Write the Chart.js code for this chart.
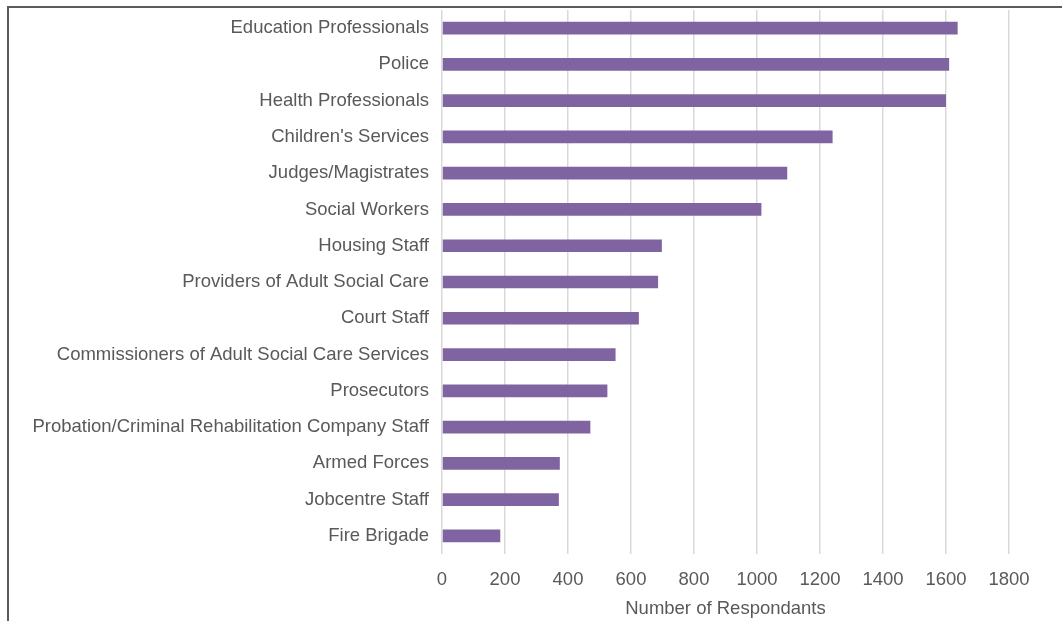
<!DOCTYPE html>
<html>
<head>
<meta charset="utf-8">
<script src="https://cdn.jsdelivr.net/npm/chart.js@4.4.1/dist/chart.umd.min.js"></script>
<style>
    html, body {
        margin: 0;
        padding: 0;
        background: #ffffff;
        overflow: hidden;
    }

    #frame {
        position: absolute;
        left: 7px;
        top: 6px;
        width: 1200px;
        height: 800px;
        border: 2px solid #5b5b5b;
    }

    #wrap {
        position: absolute;
        left: 0;
        top: 0;
        width: 1062px;
        height: 621px;
    }
</style>
</head>
<body>
<div id="frame"></div>
<div id="wrap">
    <canvas id="respondentChart"></canvas>
</div>

<script>
/* ==========================
   DATA
========================== */

const categories = [
    "Education Professionals",
    "Police",
    "Health Professionals",
    "Children's Services",
    "Judges/Magistrates",
    "Social Workers",
    "Housing Staff",
    "Providers of Adult Social Care",
    "Court Staff",
    "Commissioners of Adult Social Care Services",
    "Prosecutors",
    "Probation/Criminal Rehabilitation Company Staff",
    "Armed Forces",
    "Jobcentre Staff",
    "Fire Brigade"
];

const respondents = [
    1637, 1610, 1600, 1240, 1096,
    1014, 698, 686, 625, 551,
    525, 471, 374, 371, 185
];

const xTicks = [0, 200, 400, 600, 800, 1000, 1200, 1400, 1600, 1800];

/* ==========================
   CHART
========================== */

const labelFont = {
    family: "'Liberation Sans', Arial, sans-serif",
    size: 18.5
};

new Chart(document.getElementById("respondentChart"), {

    type: "bar",

    data: {
        labels: categories,
        datasets: [{
            label: "Number of Respondants",
            data: respondents,
            backgroundColor: "#8064a2",
            borderWidth: 0,
            categoryPercentage: 1,
            barPercentage: 0.35
        }]
    },

    options: {

        indexAxis: "y",
        responsive: true,
        maintainAspectRatio: false,
        animation: false,

        layout: {
            padding: { top: 10, right: 53, bottom: 0, left: 0 }
        },

        plugins: {
            legend: { display: false },
            tooltip: { enabled: false }
        },

        scales: {

            x: {
                min: xTicks[0],
                max: xTicks[xTicks.length - 1],
                afterBuildTicks: (scale) => {
                    scale.ticks = xTicks.map(v => ({ value: v }));
                },
                afterFit: (scale) => {
                    scale.height = 67;
                },
                grid: {
                    color: "#d9d9d9",
                    lineWidth: 1.5,
                    drawTicks: false
                },
                border: { display: false },
                ticks: {
                    color: "#595959",
                    font: labelFont,
                    padding: 15,
                    callback: (value) => String(value)
                },
                title: {
                    display: true,
                    text: "Number of Respondants",
                    color: "#595959",
                    font: labelFont,
                    padding: { top: 6, bottom: 1 }
                }
            },

            y: {
                afterFit: (scale) => {
                    scale.width = 442;
                    scale.paddingTop = 0;
                    scale.paddingBottom = 0;
                },
                grid: {
                    display: false,
                    drawTicks: false
                },
                border: { display: false },
                ticks: {
                    color: "#595959",
                    font: labelFont,
                    padding: 13
                }
            }
        }
    }
});
</script>
</body>
</html>
